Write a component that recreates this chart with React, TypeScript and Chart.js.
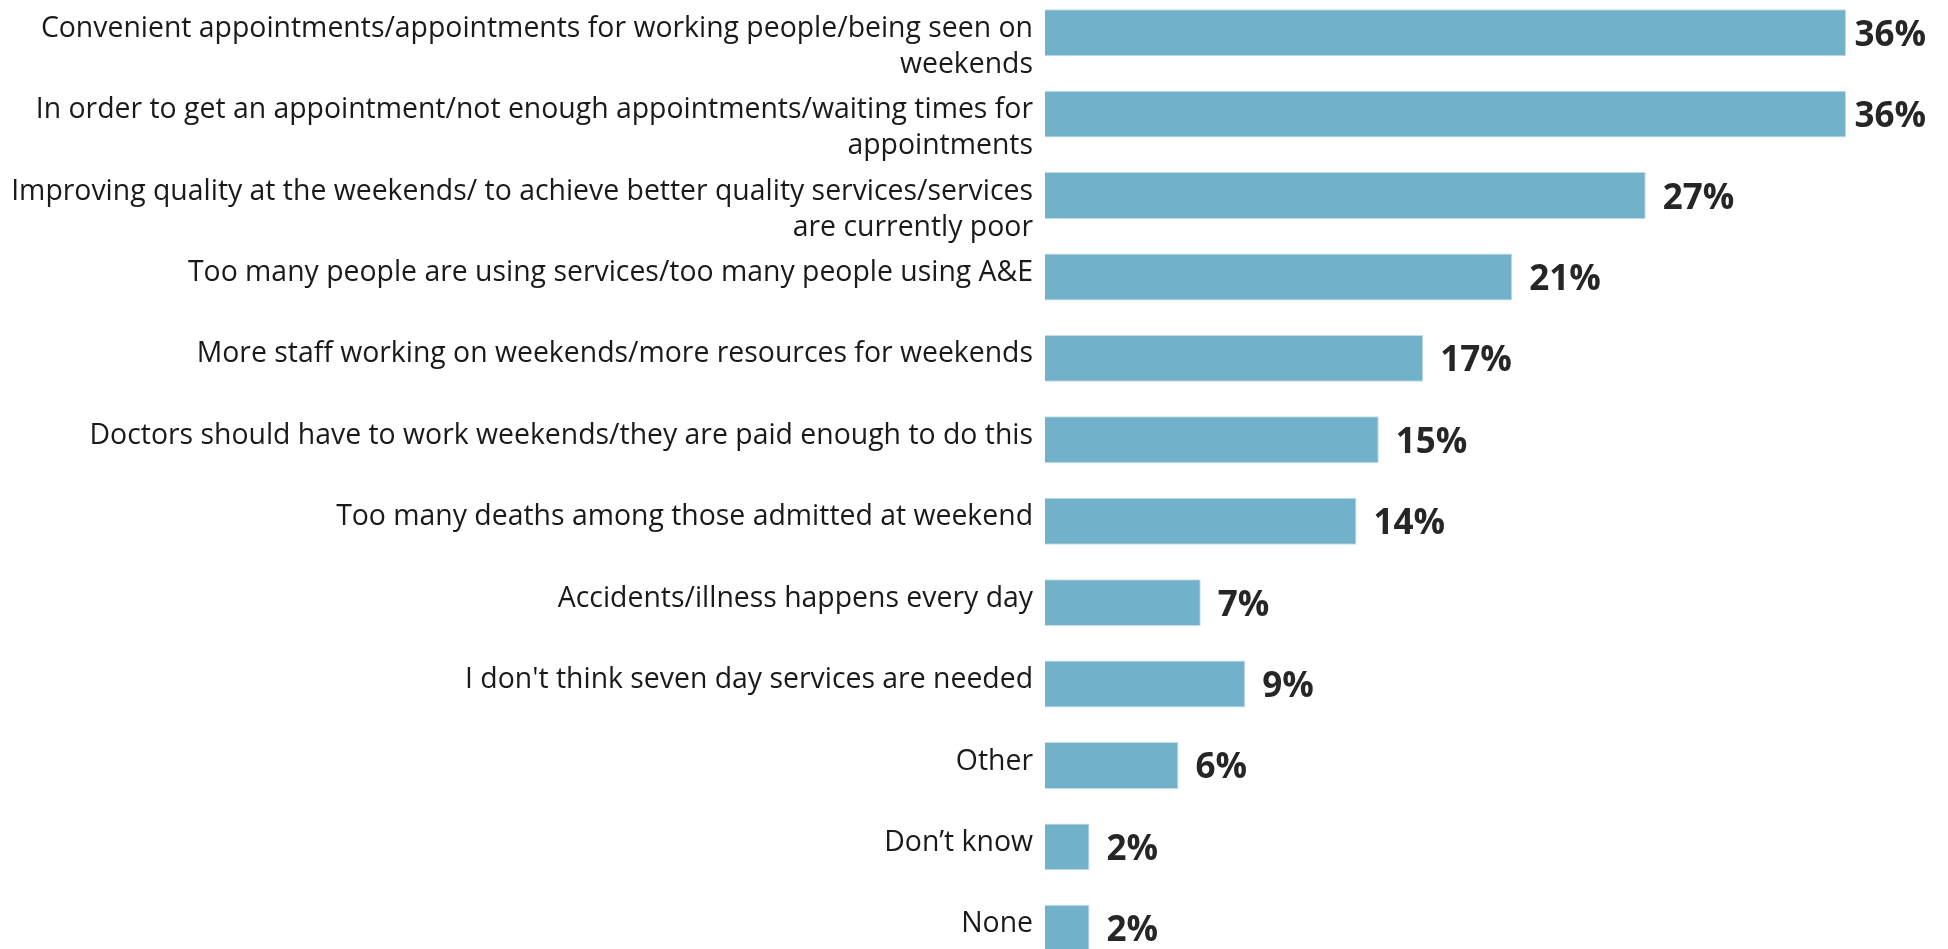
import React, { useEffect, useRef } from "react";
import { Chart, registerables } from "chart.js";

Chart.register(...registerables);

const categories: (string | string[])[] = [
  ["Convenient appointments/appointments for working people/being seen on", "weekends"],
  ["In order to get an appointment/not enough appointments/waiting times for", "appointments"],
  ["Improving quality at the weekends/ to achieve better quality services/services", "are currently poor"],
  "Too many people are using services/too many people using A&E",
  "More staff working on weekends/more resources for weekends",
  "Doctors should have to work weekends/they are paid enough to do this",
  "Too many deaths among those admitted at weekend",
  "Accidents/illness happens every day",
  "I don't think seven day services are needed",
  "Other",
  "Don\u2019t know",
  "None",
];

const values: number[] = [36, 36, 27, 21, 17, 15, 14, 7, 9, 6, 2, 2];

const valueLabels: string[] = values.map((v) => `${v}%`);

const FONT = "'Open Sans', 'Noto Sans', sans-serif";

const valueLabelPlugin = {
  id: "valueLabels",
  afterDatasetsDraw(chart: any) {
    const { ctx } = chart;
    const meta = chart.getDatasetMeta(0);
    ctx.save();
    ctx.font = `bold 35px ${FONT}`;
    ctx.fillStyle = "#262626";
    ctx.textBaseline = "middle";
    ctx.textAlign = "left";
    meta.data.forEach((bar: any, i: number) => {
      const text = valueLabels[i];
      const w = ctx.measureText(text).width;
      let x = bar.x + 17;
      const maxX = chart.width - 22 - w;
      if (x > maxX) x = maxX;
      ctx.fillText(text, x, bar.y + 3);
    });
    ctx.restore();
  },
};

export default function App() {
  const canvasRef = useRef<HTMLCanvasElement | null>(null);

  useEffect(() => {
    if (!canvasRef.current) return;
    const chart = new Chart(canvasRef.current, {
      type: "bar",
      data: {
        labels: categories,
        datasets: [
          {
            data: values,
            backgroundColor: "#71b1c9",
            borderColor: "#c2dde8",
            borderWidth: 1,
            barPercentage: 0.576,
            categoryPercentage: 1,
          },
        ],
      },
      options: {
        indexAxis: "y",
        animation: false,
        responsive: true,
        maintainAspectRatio: false,
        layout: { padding: { top: 0, bottom: 0, left: 0, right: 13 } },
        plugins: {
          legend: { display: false },
          tooltip: { enabled: false },
        },
        scales: {
          x: {
            display: false,
            min: 0,
            max: 40,
          },
          y: {
            grid: { display: false, drawTicks: false },
            border: { display: false },
            ticks: {
              padding: 12,
              color: "#1a1a1a",
              font: { family: FONT, size: 28.4, lineHeight: 1.27 },
              autoSkip: false,
              labelOffset: -4,
              callback(this: any, value: any) {
                const label = this.getLabelForValue(value);
                // wrapped labels hang below the first line, as in the source
                return Array.isArray(label) ? ["", ...label] : label;
              },
            },
            afterFit(scale: any) {
              scale.width = 1045;
              scale.paddingTop = 0;
              scale.paddingBottom = 0;
            },
          },
        },
      },
      plugins: [valueLabelPlugin],
    });
    return () => chart.destroy();
  }, []);

  return (
    <div
      style={{
        position: "fixed",
        left: 0,
        top: -8,
        width: 1948,
        height: 977,
        background: "#ffffff",
      }}
    >
      <canvas ref={canvasRef} />
    </div>
  );
}
